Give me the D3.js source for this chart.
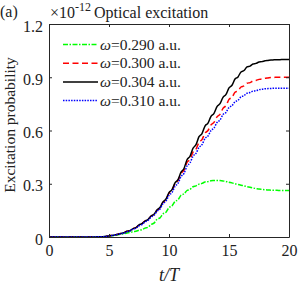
<!DOCTYPE html>
<html>
<head>
<meta charset="utf-8">
<script src="https://cdn.jsdelivr.net/npm/d3@7"></script>
<style>
  body { margin: 0; background: #fff; }
  svg text { font-family: "Liberation Serif", "DejaVu Serif", serif; fill: #222; }
  .axis path, .axis line { stroke: #262626; }
</style>
</head>
<body>
<svg id="chart" width="300" height="286"></svg>
<script>
// Optical excitation probability vs t/T (values in units of 1e-12), sampled every T/4
const T_VALUES = d3.range(0, 20.001, 0.25);

const OMEGA_LABELS = ["0.290", "0.300", "0.304", "0.310"];

const P_290 = [0, 0, 0, 0, 0, 0, 0, 0, 0, 0, 0, 0, 0, 0, 0, 0,
  0.001, 0.001, 0.002, 0.003, 0.005, 0.007, 0.009, 0.012,
  0.016, 0.018, 0.023, 0.025, 0.03, 0.032, 0.038, 0.041,
  0.05, 0.055, 0.07, 0.078, 0.1, 0.108, 0.13, 0.14,
  0.165, 0.175, 0.2, 0.21, 0.235, 0.243, 0.262, 0.268,
  0.283, 0.288, 0.298, 0.302, 0.31, 0.312, 0.317, 0.318,
  0.319, 0.318, 0.316, 0.313, 0.308, 0.305, 0.3, 0.296,
  0.292, 0.288, 0.284, 0.28, 0.276, 0.273, 0.27, 0.268,
  0.266, 0.265, 0.264, 0.263, 0.263, 0.262, 0.262, 0.262, 0.262];
const P_300 = [0, 0, 0, 0, 0, 0, 0, 0, 0, 0, 0, 0, 0, 0, 0, 0,
  0.001, 0.001, 0.002, 0.004, 0.006, 0.009, 0.012, 0.016,
  0.02, 0.024, 0.032, 0.036, 0.047, 0.053, 0.068, 0.075,
  0.09, 0.098, 0.117, 0.127, 0.15, 0.164, 0.195, 0.21,
  0.246, 0.262, 0.3, 0.317, 0.358, 0.377, 0.42, 0.437,
  0.478, 0.495, 0.533, 0.549, 0.585, 0.6, 0.632, 0.646,
  0.677, 0.691, 0.725, 0.74, 0.775, 0.787, 0.815, 0.824,
  0.845, 0.851, 0.866, 0.87, 0.879, 0.882, 0.888, 0.89,
  0.894, 0.896, 0.898, 0.899, 0.9, 0.9, 0.9, 0.9, 0.9];
const P_304 = [0, 0, 0, 0, 0, 0, 0, 0, 0, 0, 0, 0, 0, 0, 0, 0,
  0.001, 0.001, 0.002, 0.004, 0.006, 0.009, 0.012, 0.016,
  0.02, 0.024, 0.032, 0.036, 0.047, 0.053, 0.068, 0.075,
  0.09, 0.098, 0.118, 0.128, 0.152, 0.166, 0.198, 0.214,
  0.25, 0.267, 0.305, 0.323, 0.365, 0.386, 0.435, 0.455,
  0.5, 0.52, 0.565, 0.583, 0.625, 0.642, 0.68, 0.697,
  0.735, 0.751, 0.787, 0.803, 0.84, 0.855, 0.89, 0.902,
  0.93, 0.938, 0.958, 0.963, 0.975, 0.978, 0.986, 0.988,
  0.993, 0.995, 0.997, 0.998, 0.999, 0.999, 1.0, 1.0, 1.0];
const P_310 = [0, 0, 0, 0, 0, 0, 0, 0, 0, 0, 0, 0, 0, 0, 0, 0,
  0.001, 0.001, 0.002, 0.003, 0.005, 0.008, 0.011, 0.015,
  0.019, 0.022, 0.03, 0.034, 0.044, 0.05, 0.063, 0.07,
  0.085, 0.093, 0.112, 0.122, 0.145, 0.158, 0.188, 0.202,
  0.235, 0.25, 0.285, 0.302, 0.34, 0.358, 0.4, 0.417,
  0.455, 0.471, 0.505, 0.52, 0.555, 0.569, 0.6, 0.614,
  0.645, 0.659, 0.69, 0.702, 0.73, 0.74, 0.762, 0.77,
  0.79, 0.796, 0.81, 0.814, 0.822, 0.824, 0.83, 0.832,
  0.835, 0.836, 0.837, 0.838, 0.838, 0.838, 0.838, 0.838, 0.838];

const X_TICKS = [0, 5, 10, 15, 20];
const Y_TICKS = [0, 0.3, 0.6, 0.9, 1.2];

const SERIES = [
  { label: OMEGA_LABELS[0], values: P_290, color: "#00ff00", dash: "5,1.5,1.5,1.5" },
  { label: OMEGA_LABELS[1], values: P_300, color: "#ff0000", dash: "6,3.5" },
  { label: OMEGA_LABELS[2], values: P_304, color: "#000000", dash: null },
  { label: OMEGA_LABELS[3], values: P_310, color: "#0000ff", dash: "1.5,1.2" },
];

const svg = d3.select("#chart");
const m = { top: 24, right: 11, bottom: 49, left: 49 };
const innerW = 300 - m.left - m.right;
const innerH = 286 - m.top - m.bottom;

const x = d3.scaleLinear().domain([0, 20]).range([0, innerW]);
const y = d3.scaleLinear().domain([0, 1.2]).range([innerH, 0]);

const g = svg.append("g").attr("transform", `translate(${m.left},${m.top})`);

// lines
const line = d3.line()
  .x((d) => x(d.t))
  .y((d) => y(d.v))
  .curve(d3.curveMonotoneX);

g.append("g").selectAll("path")
  .data(SERIES)
  .join("path")
  .attr("fill", "none")
  .attr("stroke", (s) => s.color)
  .attr("stroke-width", 1.5)
  .attr("stroke-dasharray", (s) => s.dash)
  .attr("d", (s) => line(s.values.map((v, i) => ({ t: T_VALUES[i], v }))));

// axes (ticks inward, mirrored box)
const fmtY = (d) => (d === 0 ? "0" : d3.format(".1f")(d));
const ax = g.append("g").attr("class", "axis").attr("transform", `translate(0,${innerH})`)
  .call(d3.axisBottom(x).tickValues(X_TICKS).tickSizeInner(-3).tickSizeOuter(0).tickPadding(8).tickFormat(d3.format("d")));
const axTop = g.append("g").attr("class", "axis")
  .call(d3.axisTop(x).tickValues(X_TICKS).tickSizeInner(-3).tickSizeOuter(0).tickFormat(""));
const ay = g.append("g").attr("class", "axis")
  .call(d3.axisLeft(y).tickValues(Y_TICKS).tickSizeInner(-3).tickSizeOuter(0).tickPadding(6).tickFormat(fmtY));
const ayR = g.append("g").attr("class", "axis").attr("transform", `translate(${innerW},0)`)
  .call(d3.axisRight(y).tickValues(Y_TICKS).tickSizeInner(-3).tickSizeOuter(0).tickFormat(""));

svg.selectAll(".axis text")
  .style("font-family", '"Liberation Serif", serif')
  .style("font-size", "16px")
  .attr("fill", "#262626");
ay.selectAll("text").attr("dy", "0.45em");
svg.selectAll(".axis path").attr("stroke-width", 1);

// legend
const legend = g.append("g").attr("transform", "translate(14,20.5)");
const rows = legend.selectAll("g").data(SERIES).join("g")
  .attr("transform", (s, i) => `translate(0,${i * 18.7})`);
rows.append("line")
  .attr("x1", 0).attr("x2", 35).attr("y1", 0).attr("y2", 0)
  .attr("stroke", (s) => s.color)
  .attr("stroke-width", 1.5)
  .attr("stroke-dasharray", (s) => s.dash);
const lt = rows.append("text").attr("x", 37).attr("y", 5).style("font-size", "15.5px");
lt.append("tspan").style("font-style", "italic").text("ω");
lt.append("tspan").text((s) => `=${s.label} a.u.`);

// titles
svg.append("text").attr("x", 0).attr("y", 17).style("font-size", "16px").text("(a)");
const title = svg.append("text").attr("x", 50).attr("y", 18).style("font-size", "16px");
title.append("tspan").text("×10");
title.append("tspan").attr("dy", -7).style("font-size", "12px").text("-12");
title.append("tspan").attr("dy", 7).attr("dx", 3).text("Optical excitation");

svg.append("text")
  .attr("x", m.left + innerW / 2).attr("y", 281)
  .attr("text-anchor", "middle")
  .style("font-size", "18px")
  .style("font-style", "italic")
  .text("t/T");

svg.append("text")
  .attr("transform", `translate(14.5,125) rotate(-90)`)
  .attr("text-anchor", "middle")
  .style("font-size", "15.5px")
  .text("Excitation probability");
</script>
</body>
</html>
